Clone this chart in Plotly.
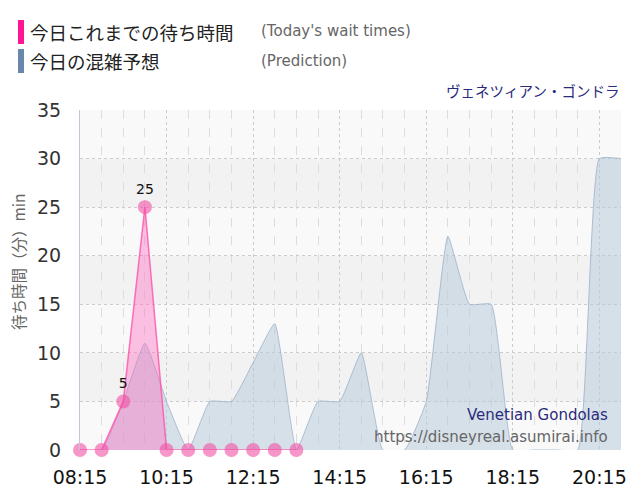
import plotly.graph_objects as go

# today's actual wait times (every 30 min)
wait_times = ["08:15", "08:45", "09:15", "09:45", "10:15", "10:45",
              "11:15", "11:45", "12:15", "12:45", "13:15"]
wait_values = [0, 0, 5, 25, 0, 0, 0, 0, 0, 0, 0]

# predicted congestion (every 30 min)
pred_times = ["08:15", "08:45", "09:15", "09:45", "10:15", "10:45", "11:15",
              "11:45", "12:15", "12:45", "13:15", "13:45", "14:15", "14:45",
              "15:15", "15:45", "16:15", "16:45", "17:15", "17:45", "18:15",
              "18:45", "19:15", "19:45", "20:15", "20:45"]
pred_values = [0, 0, 5, 11, 5, 0, 5, 5, 9, 13, 0, 5, 5, 10,
               0, 0, 5, 22, 15, 15, 0, 0, 0, 0, 30, 30]

day = "2024-01-01 "
# the page puts the figure 8px in from the window corner
OFF = 8
L, R, T, B = 80, 621, 110, 450  # plot area in window pixels


def px(x):
    return (x - L) / (R - L)


def py(y):
    return (B - y) / (B - T)


fig = go.Figure()

fig.add_trace(go.Scatter(
    x=[day + t for t in pred_times], y=pred_values,
    mode="lines", line=dict(color="rgba(150,175,200,0.75)", width=1, shape="spline", smoothing=0.4),
    fill="tozeroy", fillcolor="rgba(180,200,218,0.5)",
    hoverinfo="skip", showlegend=False))

fig.add_trace(go.Scatter(
    x=[day + t for t in wait_times], y=wait_values,
    mode="lines+markers+text",
    line=dict(color="rgba(255,80,170,0.8)", width=1.5),
    marker=dict(size=14, color="rgba(240,80,165,0.6)"),
    fill="tozeroy", fillcolor="rgba(255,105,190,0.4)",
    text=[str(v) if v > 0 else "" for v in wait_values],
    textposition="top center",
    textfont=dict(size=14, color="#111", family="DejaVu Sans"),
    cliponaxis=False, showlegend=False))

# alternating horizontal bands
shapes = []
for i in range(7):
    shapes.append(dict(type="rect", xref="paper", yref="y", x0=0, x1=1,
                       y0=i * 5, y1=i * 5 + 5, line=dict(width=0), layer="below",
                       fillcolor="#f9f9f9" if i % 2 == 0 else "#f2f2f2"))
# legend colour bars
shapes.append(dict(type="rect", xref="paper", yref="paper", x0=px(18), x1=px(24),
                   y0=py(44), y1=py(20), fillcolor="#ff1493", line=dict(width=0)))
shapes.append(dict(type="rect", xref="paper", yref="paper", x0=px(18), x1=px(24),
                   y0=py(73), y1=py(49), fillcolor="#6a86ac", line=dict(width=0)))

jp = "Noto Sans CJK JP"
annotations = [
    dict(text="今日これまでの待ち時間", x=px(28), y=py(32), xanchor="left", yanchor="middle",
         font=dict(size=18.5, color="#222", family=jp)),
    dict(text="(Today's wait times)", x=px(259), y=py(31), xanchor="left", yanchor="middle",
         font=dict(size=15, color="#666", family="DejaVu Sans")),
    dict(text="今日の混雑予想", x=px(28), y=py(61), xanchor="left", yanchor="middle",
         font=dict(size=18.5, color="#222", family=jp)),
    dict(text="(Prediction)", x=px(259), y=py(61), xanchor="left", yanchor="middle",
         font=dict(size=15, color="#666", family="DejaVu Sans")),
    dict(text="ヴェネツィアン・ゴンドラ", x=px(621), y=py(90), xanchor="right", yanchor="middle",
         font=dict(size=14.5, color="#2b2b7c", family=jp)),
    dict(text="Venetian Gondolas", x=px(610), y=py(415), xanchor="right", yanchor="middle",
         font=dict(size=15, color="#2b2b7c", family="DejaVu Sans")),
    dict(text="https://disneyreal.asumirai.info", x=px(610), y=py(437), xanchor="right",
         yanchor="middle", font=dict(size=15, color="#666", family="DejaVu Sans")),
    dict(text="待ち時間（分）min", x=px(18), y=py(262), xanchor="center", yanchor="middle",
         textangle=-90, font=dict(size=15.5, color="#666", family=jp)),
]
for a in annotations:
    a.update(xref="paper", yref="paper", showarrow=False)

fig.update_layout(
    width=640, height=500,
    margin=dict(l=L - OFF, r=640 - R + OFF, t=T - OFF, b=500 - B + OFF),
    paper_bgcolor="white", plot_bgcolor="#f9f9f9",
    shapes=shapes, annotations=annotations,
    font=dict(family="DejaVu Sans"),
    xaxis=dict(type="date", range=[day + "08:15", day + "20:45"],
               tick0=day + "08:15", dtick=2 * 3600 * 1000, tickformat="%H:%M",
               tickfont=dict(size=19, color="#111"), ticklabelstandoff=14,
               showgrid=True, gridcolor="#cccccc", griddash="dot", gridwidth=1,
               minor=dict(dtick=30 * 60 * 1000, tick0=day + "08:15", showgrid=True,
                          gridcolor="#dddddd", griddash="dash", gridwidth=1),
               zeroline=False, showline=False, ticks="", fixedrange=True),
    yaxis=dict(range=[0, 35], dtick=5, tickfont=dict(size=19, color="#333"),
               ticklabelstandoff=14,
               showgrid=True, gridcolor="#cccccc", griddash="dot",
               zeroline=False, showline=True, linecolor="#c4c4d4", linewidth=1),
)

fig.write_html("out.html")
